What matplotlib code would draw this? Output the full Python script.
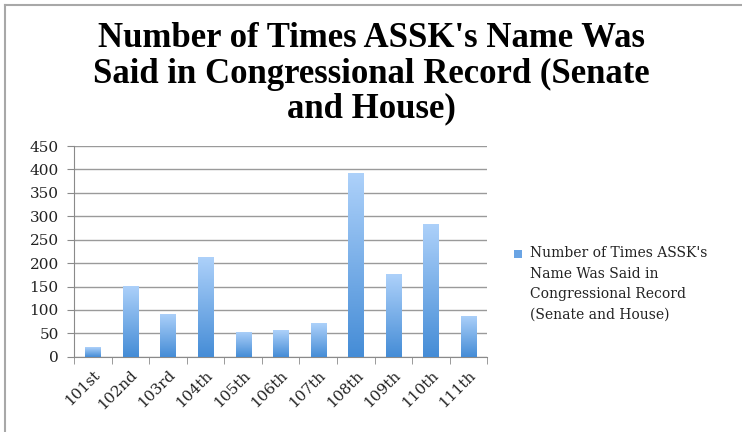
import numpy as np
import matplotlib.pyplot as plt
from matplotlib.patches import Rectangle
from matplotlib.lines import Line2D

# congress sessions and mention counts
sessions = ["101st", "102nd", "103rd", "104th", "105th", "106th",
            "107th", "108th", "109th", "110th", "111th"]
mentions = [21, 152, 92, 213, 54, 57, 72, 392, 176, 284, 88]

title = "Number of Times ASSK's Name Was\nSaid in Congressional Record (Senate\nand House)"
legend_label = "Number of Times ASSK's\nName Was Said in\nCongressional Record\n(Senate and House)"

top_col = np.array([0.68, 0.82, 0.98])
bot_col = np.array([0.27, 0.55, 0.84])

plt.rcParams['font.family'] = 'DejaVu Serif'

fig = plt.figure(figsize=(7.42, 4.32), dpi=100)
ax = fig.add_axes([0.0997, 0.174, 0.557, 0.488])

x = np.arange(len(sessions))
bars = ax.bar(x, mentions, width=0.4, color='none', edgecolor='none', zorder=3)

# vertical gradient inside each bar
grad = np.linspace(0, 1, 256).reshape(-1, 1)
cols = bot_col + (top_col - bot_col) * grad[:, :, None]
for b in bars:
    x0, y0 = b.get_x(), b.get_y()
    im = ax.imshow(cols, extent=[x0, x0 + b.get_width(), y0, y0 + b.get_height()],
                   origin='lower', aspect='auto', zorder=3)
    im.set_clip_path(b)

ax.set_xlim(-0.5, len(sessions) - 0.5)
ax.set_ylim(0, 450)
ax.set_yticks(range(0, 451, 50))
ax.grid(axis='y', color='#9a9a9a', linewidth=1.0, zorder=0)
ax.set_axisbelow(True)

for s in ['top', 'right']:
    ax.spines[s].set_visible(False)
ax.spines['left'].set_color('#8a8a8a')
ax.spines['bottom'].set_color('#8a8a8a')

ax.set_xticks(x)
ax.set_xticklabels(sessions, rotation=45, ha='right', rotation_mode='anchor',
                   fontsize=11, color='#222222')
ax.tick_params(axis='x', which='major', length=0, pad=8)
ax.set_xticks(np.arange(-0.5, len(sessions), 1), minor=True)
ax.tick_params(axis='x', which='minor', length=5, color='#8a8a8a', direction='out')
ax.tick_params(axis='y', length=5, color='#8a8a8a', labelsize=11, labelcolor='#222222', pad=6)

fig.text(0.5, 0.948, title, ha='center', va='top', fontsize=25, fontweight='bold',
         family='Liberation Serif', linespacing=1.08)

# legend
fig.patches.append(Rectangle((514 / 742, 1 - 258 / 432), 8 / 742, 8 / 432,
                             transform=fig.transFigure, facecolor='#6aa4e4',
                             edgecolor='none'))
fig.text(530 / 742, 1 - 246 / 432, legend_label, ha='left', va='top', fontsize=10,
         linespacing=1.6, color='#222222')

# frame lines at top and left
fig.add_artist(Line2D([5 / 742, 5 / 742], [0, 1 - 5 / 432], transform=fig.transFigure,
                      color='#a8a8a8', linewidth=1.5))
fig.add_artist(Line2D([5 / 742, 1], [1 - 5 / 432, 1 - 5 / 432], transform=fig.transFigure,
                      color='#a8a8a8', linewidth=1.5))

fig.savefig('out.png', dpi=100)
